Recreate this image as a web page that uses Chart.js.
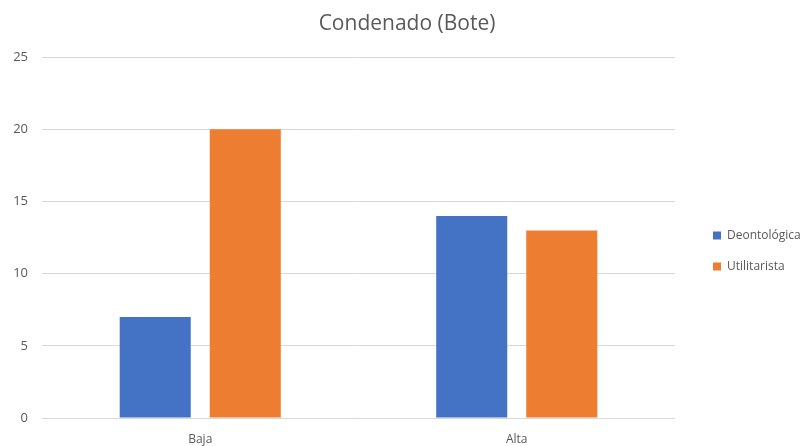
<!DOCTYPE html>
<html>
<head>
<meta charset="utf-8">
<script src="https://cdn.jsdelivr.net/npm/chart.js@4.4.1/dist/chart.umd.min.js"></script>
<style>
html,body{margin:0;padding:0;background:#fff;}
#wrap{width:801px;height:446px;}
</style>
</head>
<body>
<div id="wrap"><canvas id="c" width="801" height="446"></canvas></div>
<script>
const categories = ["Baja", "Alta"];
const deontologica = [7, 14];
const utilitarista = [20, 13];
const yTicks = [0, 5, 10, 15, 20, 25];
const seriesNames = ["Deontológica", "Utilitarista"];

const FONT = "'Open Sans', sans-serif";
const GREY = "#595959";

const legendShift = {
  id: 'legendShift',
  afterInit(chart) {
    const lg = chart.legend;
    const fit = lg.fit;
    lg.fit = function() { fit.call(this); this.width = 126; };
  },
  afterLayout(chart) {
    const lg = chart.legend;
    lg.left += 19;
    lg.right += 19;
    lg.top += 28;
    lg.bottom += 28;
  }
};

new Chart(document.getElementById('c'), {
  type: 'bar',
  data: {
    labels: categories,
    datasets: [
      { label: seriesNames[0], data: deontologica, backgroundColor: '#4472C4' },
      { label: seriesNames[1], data: utilitarista, backgroundColor: '#ED7D31' }
    ]
  },
  options: {
    responsive: false,
    animation: false,
    devicePixelRatio: 1,
    categoryPercentage: 0.569,
    barPercentage: 0.789,
    layout: { padding: { left: 13, right: 0, top: 0, bottom: 0 } },
    plugins: {
      title: {
        display: true,
        text: 'Condenado (Bote)',
        color: GREY,
        font: { family: FONT, size: 21, weight: 'normal' },
        padding: { top: 11, bottom: 21 }
      },
      legend: {
        position: 'right',
        labels: {
          color: GREY,
          font: { family: FONT, size: 12 },
          boxWidth: 8,
          boxHeight: 8,
          padding: 19
        }
      },
      tooltip: { enabled: false }
    },
    scales: {
      x: {
        grid: { display: false },
        border: { display: false },
        ticks: { color: GREY, font: { family: FONT, size: 12 }, padding: 6 },
        afterFit(s) { s.height = 28; }
      },
      y: {
        min: yTicks[0],
        max: yTicks[yTicks.length - 1],
        afterBuildTicks(s) { s.ticks = yTicks.map(v => ({ value: v })); },
        grid: { color: '#D9D9D9', drawTicks: false, lineWidth: 1 },
        border: { display: false },
        ticks: { color: GREY, font: { family: FONT, size: 13 }, padding: 14 },
        afterFit(s) { s.width = 29; }
      }
    }
  },
  plugins: [legendShift]
});
</script>
</body>
</html>
